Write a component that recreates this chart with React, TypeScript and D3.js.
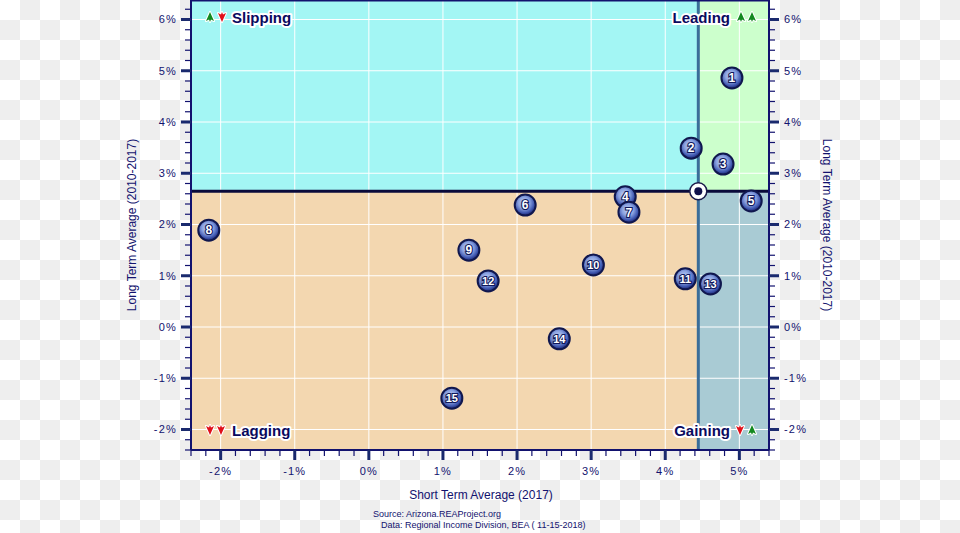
import React from "react";
import * as d3 from "d3";

const labels = ["1","2","3","4","5","6","7","8","9","10","11","12","13","14","15"];
const shortTerm = [4.90, 4.35, 4.78, 3.46, 5.16, 2.11, 3.51, -2.16, 1.35, 3.03, 4.27, 1.61, 4.61, 2.57, 1.12];
const longTerm = [4.86, 3.49, 3.18, 2.54, 2.46, 2.38, 2.24, 1.89, 1.50, 1.21, 0.94, 0.90, 0.84, -0.23, -1.39];
const centerX = 4.446;
const centerY = 2.65;
const xTicks = [-2, -1, 0, 1, 2, 3, 4, 5];
const yTicks = [-2, -1, 0, 1, 2, 3, 4, 5, 6];
const xDomain = [-2.4, 5.4];
const yDomain = [-2.4, 6.4];

const W = 960, H = 533;
const FONT = "'Liberation Sans', Arial, sans-serif";
const NAVY = "#12126e";

function Arrow({ x, y, up }: { x: number; y: number; up: boolean }) {
  const s = up ? -1 : 1;
  const d = `M${x},${y + s * 5} L${x - 4},${y - s * 4} L${x - 1},${y - s * 2.5} L${x},${y - s * 5} L${x + 1},${y - s * 2.5} L${x + 4},${y - s * 4} Z`;
  return (
    <path d={d} fill={up ? "#12891f" : "#e0101a"} stroke="#ffffff" strokeWidth={2} strokeLinejoin="round" paintOrder="stroke" />
  );
}

function QLabel({ x, y, text, anchor }: { x: number; y: number; text: string; anchor: string }) {
  return (
    <text x={x} y={y} textAnchor={anchor} fontFamily={FONT} fontWeight="bold" fontSize={15}
      fill="#0a0a5e" stroke="#ffffff" strokeWidth={4} strokeLinejoin="round" paintOrder="stroke">{text}</text>
  );
}

export default function App() {
  const x = d3.scaleLinear().domain(xDomain).range([191, 769]);
  const y = d3.scaleLinear().domain(yDomain).range([450, -1]);
  const x0 = x(xDomain[0]), x1 = x(xDomain[1]);
  const y0 = y(yDomain[0]), y1 = 0;
  const cx = x(centerX), cy = y(centerY);

  const minorX = d3.range(-2.4, 5.41, 0.2).map((v) => +v.toFixed(2));
  const minorY = d3.range(-2.4, 6.41, 0.2).map((v) => +v.toFixed(2));

  const cells: JSX.Element[] = [];
  for (let i = 0; i < W / 20; i++) {
    for (let j = 0; j < Math.ceil(H / 20); j++) {
      if ((i + j) % 2 === 1) cells.push(<rect key={`c${i}-${j}`} x={i * 20} y={j * 20} width={20} height={20} fill="#eeeeee" />);
    }
  }

  return (
    <svg width={W} height={H} style={{ position: "absolute", left: 0, top: 0, display: "block" }}>
      <defs>
        <radialGradient id="ball" cx="45%" cy="40%" r="60%">
          <stop offset="0%" stopColor="#c2d2f6" />
          <stop offset="45%" stopColor="#8aa2e0" />
          <stop offset="78%" stopColor="#4058b0" />
          <stop offset="100%" stopColor="#1b2470" />
        </radialGradient>
      </defs>
      <rect x={0} y={0} width={W} height={H} fill="#ffffff" />
      {cells}

      {/* quadrants */}
      <rect x={x0} y={y1} width={cx - x0} height={cy - y1} fill="#a3f6f4" />
      <rect x={cx} y={y1} width={x1 - cx} height={cy - y1} fill="#ccffcc" />
      <rect x={x0} y={cy} width={cx - x0} height={y0 - cy} fill="#f3d7b0" />
      <rect x={cx} y={cy} width={x1 - cx} height={y0 - cy} fill="#a9cbd4" />

      {/* grid */}
      {xTicks.map((t) => (
        <line key={`gx${t}`} x1={x(t)} x2={x(t)} y1={y1} y2={y0} stroke="#ffffff" strokeWidth={1} />
      ))}
      {yTicks.map((t) => (
        <line key={`gy${t}`} x1={x0} x2={x1} y1={y(t)} y2={y(t)} stroke="#ffffff" strokeWidth={1} />
      ))}

      {/* dividers */}
      <line x1={cx} x2={cx} y1={y1} y2={y0} stroke="#3a6d99" strokeWidth={3} />
      <line x1={x0} x2={x1} y1={cy} y2={cy} stroke="#0a0a3a" strokeWidth={3} />

      {/* axes frame */}
      <line x1={x0} x2={x0} y1={0} y2={y0} stroke={NAVY} strokeWidth={2} />
      <line x1={x1} x2={x1} y1={0} y2={y0} stroke={NAVY} strokeWidth={2} />
      <line x1={x0} x2={x1} y1={y0} y2={y0} stroke={NAVY} strokeWidth={2} />
      <line x1={x0} x2={x1} y1={0.5} y2={0.5} stroke={NAVY} strokeWidth={2} />

      {/* minor ticks */}
      {minorY.map((t) => (
        <g key={`my${t}`}>
          <line x1={x0 - 6} x2={x0} y1={y(t)} y2={y(t)} stroke={NAVY} strokeWidth={1.2} />
          <line x1={x1} x2={x1 + 6} y1={y(t)} y2={y(t)} stroke={NAVY} strokeWidth={1.2} />
        </g>
      ))}
      {minorX.map((t) => (
        <line key={`mx${t}`} x1={x(t)} x2={x(t)} y1={y0} y2={y0 + 6} stroke={NAVY} strokeWidth={1.2} />
      ))}
      {/* major ticks */}
      {yTicks.map((t) => (
        <g key={`Ty${t}`}>
          <line x1={x0 - 10} x2={x0} y1={y(t)} y2={y(t)} stroke="#1a2a6e" strokeWidth={3} />
          <line x1={x1} x2={x1 + 10} y1={y(t)} y2={y(t)} stroke="#1a2a6e" strokeWidth={3} />
          <text x={x0 - 14} y={y(t)} dy="0.35em" textAnchor="end" fontFamily={FONT} fontSize={11} fill={NAVY} letterSpacing={1.2}>{`${t}%`}</text>
          <text x={x1 + 15} y={y(t)} dy="0.35em" textAnchor="start" fontFamily={FONT} fontSize={11} fill={NAVY} letterSpacing={1.2}>{`${t}%`}</text>
        </g>
      ))}
      {xTicks.map((t) => (
        <g key={`Tx${t}`}>
          <line x1={x(t)} x2={x(t)} y1={y0} y2={y0 + 10} stroke="#1a2a6e" strokeWidth={3} />
          <text x={x(t)} y={y0 + 25} textAnchor="middle" fontFamily={FONT} fontSize={11} fill={NAVY} letterSpacing={1.2}>{`${t}%`}</text>
        </g>
      ))}

      {/* quadrant labels */}
      <Arrow x={210} y={17} up={true} />
      <Arrow x={222} y={17} up={false} />
      <QLabel x={232} y={23} text="Slipping" anchor="start" />
      <QLabel x={730} y={23} text="Leading" anchor="end" />
      <Arrow x={741} y={17} up={true} />
      <Arrow x={752} y={17} up={true} />
      <Arrow x={210} y={430} up={false} />
      <Arrow x={221} y={430} up={false} />
      <QLabel x={232} y={436} text="Lagging" anchor="start" />
      <QLabel x={730} y={436} text="Gaining" anchor="end" />
      <Arrow x={740} y={430} up={false} />
      <Arrow x={752} y={430} up={true} />

      {/* points */}
      {labels.map((l, i) => (
        <g key={`p${l}`} transform={`translate(${x(shortTerm[i])},${y(longTerm[i])})`}>
          <circle r={10.5} fill="url(#ball)" stroke="#10174e" strokeWidth={2} />
          <text dy="0.36em" textAnchor="middle" fontFamily={FONT} fontWeight="bold" fontSize={l.length > 1 ? 11 : 12}
            fill="#ffffff" stroke="#10185a" strokeWidth={2.2} paintOrder="stroke">{l}</text>
        </g>
      ))}

      {/* center */}
      <circle cx={cx} cy={cy} r={8.5} fill="#ffffff" stroke="#1a1a4a" strokeWidth={1.5} />
      <circle cx={cx} cy={cy} r={4} fill="#10104a" />

      {/* titles */}
      <text transform={`translate(136,${(y0 + 0) / 2}) rotate(-90)`} textAnchor="middle" fontFamily={FONT} fontSize={12} fill={NAVY}>Long Term Average (2010-2017)</text>
      <text transform={`translate(823,${(y0 + 0) / 2}) rotate(90)`} textAnchor="middle" fontFamily={FONT} fontSize={12} fill={NAVY}>Long Term Average (2010-2017)</text>
      <text x={481} y={499} textAnchor="middle" fontFamily={FONT} fontSize={12} fill={NAVY}>Short Term Average (2017)</text>
      <text x={373} y={517} fontFamily={FONT} fontSize={9} fill={NAVY}>Source: Arizona.REAProject.org</text>
      <text x={381} y={527.5} fontFamily={FONT} fontSize={9} fill={NAVY}>Data: Regional Income Division, BEA ( 11-15-2018)</text>
    </svg>
  );
}
